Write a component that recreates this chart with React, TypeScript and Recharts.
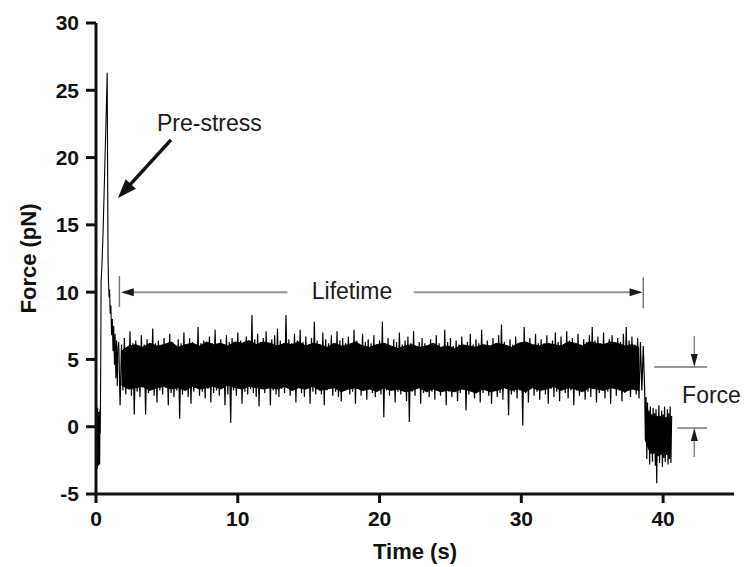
import React from 'react';
import { ComposedChart, Line, Area, XAxis, YAxis, ReferenceLine, ReferenceDot } from 'recharts';

const FONT = '"Liberation Sans", Arial, Helvetica, sans-serif';

// Axis ticks
const timeTicks = [0, 10, 20, 30, 40];
const forceTicks = [-5, 0, 5, 10, 15, 20, 25, 30];

// Pre-stress segment (irregular sampling)
const prestressTime = [
  0, 0.02, 0.04, 0.06, 0.08, 0.1, 0.12, 0.14, 0.16, 0.18, 0.2, 0.22, 0.24, 0.26, 0.28, 0.3,
  0.33, 0.36, 0.42, 0.5, 0.6, 0.7, 0.76, 0.79, 0.82, 0.85, 0.88, 0.92, 0.96, 1.0, 1.05,
  1.1, 1.15, 1.2, 1.25, 1.3, 1.35, 1.4, 1.45, 1.5, 1.55,
];
const prestressForce = [
  26.2, -1.0, 1.2, -2.6, 0.9, -3.1, 1.4, -1.8, 0.6, -2.9, 1.1, -2.2, 0.4, -2.8, 1.3, -0.5,
  4.0, 10.8, 12.0, 14.5, 18.5, 22.5, 25.0, 26.3, 19.0, 12.5, 10.8, 9.6, 10.2, 8.4, 9.0,
  6.8, 8.0, 5.6, 7.5, 4.6, 6.9, 3.6, 6.4, 3.0, 5.9,
];

// Bond lifetime plateau (sampled every 0.1 s from 1.6 s)
const plateauStart = 1.6;
const plateauStep = 0.1;
const plateauForce = [
  6.3, 1.6, 6.1, 2.7, 6.6, 2.4, 5.9, 2.8, 7.1, 2.3, 6.2, 0.9, 6.4, 2.6, 6.0, 2.2, 6.8, 2.9, 6.1, 0.9,
  6.5, 2.5, 6.0, 2.8, 7.3, 2.3, 6.2, 1.8, 6.4, 2.7, 5.9, 2.4, 6.6, 2.9, 6.1, 1.6, 6.9, 2.5, 6.3, 2.2,
  6.0, 2.7, 6.5, 0.6, 6.2, 2.4, 7.0, 2.8, 6.1, 2.2, 6.6, 1.7, 6.3, 2.6, 5.9, 2.9, 7.4, 2.3, 6.2, 2.6,
  6.4, 2.1, 6.0, 2.8, 6.7, 1.8, 6.2, 2.5, 7.2, 2.7, 6.1, 2.3, 6.5, 2.9, 6.0, 1.6, 6.8, 2.4, 6.3, 0.3,
  6.6, 2.7, 6.1, 2.3, 7.0, 2.9, 6.4, 1.7, 6.2, 2.6, 6.7, 2.4, 6.0, 2.8, 8.3, 2.5, 6.5, 2.2, 6.9, 1.5,
  6.3, 2.8, 6.6, 2.5, 7.1, 2.9, 6.2, 1.6, 6.5, 2.7, 6.8, 2.4, 7.3, 2.2, 6.4, 2.8, 6.1, 2.5, 8.3, 2.9,
  6.5, 2.3, 6.2, 2.7, 6.9, 1.8, 6.4, 2.9, 7.2, 2.5, 6.3, 2.2, 6.7, 2.8, 6.1, 1.7, 6.6, 2.6, 7.8, 2.4,
  6.4, 2.8, 6.0, 2.4, 7.0, 1.6, 6.5, 2.7, 6.2, 2.9, 6.8, 2.3, 6.1, 2.6, 7.1, 2.2, 6.4, 1.9, 6.6, 2.7,
  6.2, 2.9, 6.7, 2.4, 6.0, 2.6, 7.2, 1.7, 6.4, 2.8, 6.1, 2.3, 6.9, 2.7, 6.3, 2.0, 6.5, 2.9, 6.2, 2.5,
  6.8, 2.2, 6.1, 2.8, 6.4, 2.4, 7.8, 0.7, 6.2, 2.7, 6.6, 2.3, 6.0, 2.9, 6.5, 1.8, 6.3, 2.6, 7.0, 2.4,
  6.1, 2.8, 6.4, 1.9, 6.7, 0.35, 6.2, 2.6, 7.1, 2.3, 6.0, 2.9, 6.3, 1.7, 6.6, 2.5, 6.2, 2.8, 6.0, 2.2,
  6.5, 2.6, 6.1, 2.0, 6.8, 2.8, 6.2, 2.3, 5.9, 2.9, 7.2, 1.6, 6.3, 2.6, 6.6, 2.2, 6.0, 2.7, 6.4, 1.9,
  6.1, 2.5, 6.7, 2.8, 5.9, 1.2, 6.3, 2.4, 6.9, 2.7, 6.1, 2.1, 6.5, 2.6, 6.2, 1.8, 7.2, 2.5, 6.0, 2.8,
  6.4, 2.3, 6.0, 1.7, 6.6, 2.7, 6.2, 2.2, 6.8, 2.5, 7.6, 2.0, 6.3, 2.8, 6.0, 0.85, 6.5, 2.4, 6.1, 2.6,
  6.7, 2.1, 5.9, 2.7, 6.3, 0.1, 7.4, 2.5, 6.1, 1.8, 6.6, 2.9, 6.0, 2.3, 6.9, 2.6, 6.2, 2.0, 6.5, 2.8,
  6.2, 2.4, 6.8, 1.7, 6.0, 2.8, 6.4, 2.2, 7.0, 2.6, 6.3, 1.9, 6.7, 2.9, 6.1, 2.5, 7.1, 2.1, 6.4, 2.7,
  6.6, 1.6, 6.2, 2.7, 6.9, 2.3, 6.1, 2.9, 6.5, 2.0, 6.3, 2.6, 6.8, 2.2, 7.4, 2.8, 6.4, 1.8, 6.7, 2.5,
  6.2, 2.8, 7.0, 2.1, 6.0, 2.6, 6.5, 1.7, 6.8, 2.9, 6.2, 2.3, 6.6, 2.7, 6.3, 1.9, 6.9, 2.5, 7.4, 2.8,
  6.4, 2.2, 6.7, 2.9, 6.1, 2.4, 6.6, 2.1, 6.3, 2.7, 6.0,
];

// Dense (solid black) core of the plateau noise band, read every 0.5 s
const coreTime = [
  1.8, 2.3, 2.8, 3.3, 3.8, 4.3, 4.8, 5.3, 5.8, 6.3, 6.8, 7.3, 7.8, 8.3, 8.8, 9.3, 9.8, 10.3, 10.8, 11.3,
  11.8, 12.3, 12.8, 13.3, 13.8, 14.3, 14.8, 15.3, 15.8, 16.3, 16.8, 17.3, 17.8, 18.3, 18.8, 19.3, 19.8, 20.3, 20.8, 21.3,
  21.8, 22.3, 22.8, 23.3, 23.8, 24.3, 24.8, 25.3, 25.8, 26.3, 26.8, 27.3, 27.8, 28.3, 28.8, 29.3, 29.8, 30.3, 30.8, 31.3,
  31.8, 32.3, 32.8, 33.3, 33.8, 34.3, 34.8, 35.3, 35.8, 36.3, 36.8, 37.3, 37.8, 38.3,
];
const coreHigh = [
  5.6, 6.0, 6.1, 5.9, 6.2, 6.0, 6.1, 6.3, 5.9, 6.1, 6.2, 6.0, 6.3, 6.1, 6.2, 6.0, 6.3, 6.2, 6.4, 6.1,
  6.3, 6.2, 6.0, 6.2, 6.1, 6.3, 6.0, 6.2, 6.1, 5.9, 6.2, 6.0, 6.1, 6.3, 6.0, 5.9, 6.1, 6.2, 6.0, 5.8,
  6.0, 6.1, 5.9, 6.0, 6.2, 5.9, 6.0, 5.8, 6.1, 6.0, 5.9, 6.1, 6.0, 6.2, 6.1, 5.9, 6.2, 6.3, 6.1, 6.0,
  6.2, 6.1, 6.0, 6.3, 6.2, 6.0, 6.3, 6.2, 6.1, 6.3, 6.2, 6.0, 6.1, 5.9,
];
const coreLow = [
  3.1, 2.8, 2.9, 3.0, 2.7, 2.9, 3.0, 2.8, 2.9, 2.7, 3.0, 2.8, 2.9, 3.0, 2.8, 3.1, 2.9, 2.8, 3.0, 2.9,
  2.8, 2.9, 2.8, 3.0, 2.7, 2.9, 2.8, 3.0, 2.7, 2.8, 2.9, 2.6, 2.8, 2.9, 2.7, 2.8, 2.6, 2.9, 2.7, 2.8,
  2.6, 2.7, 2.9, 2.6, 2.8, 2.6, 2.7, 2.6, 2.8, 2.7, 2.5, 2.8, 2.6, 2.7, 2.9, 2.7, 2.8, 2.6, 2.9, 2.7,
  2.8, 3.0, 2.7, 2.9, 2.8, 2.6, 2.9, 2.8, 2.7, 2.9, 2.8, 2.6, 2.8, 2.7,
];

// After bond rupture (sampled every 0.05 s from 38.7 s)
const ruptureStart = 38.7;
const ruptureStep = 0.05;
const ruptureForce = [
  2.7, -1.0, 2.2, -2.4, 1.8, -1.5, 1.2, -2.8, 1.5, -2.0, 0.9, -2.6, 1.4, -1.8, 1.0, -2.9, 1.3, -4.2, 0.8, -2.2,
  1.6, -2.7, 0.7, -1.9, 1.2, -3.0, 0.9, -2.3, 1.5, -2.6, 0.6, -2.1, 1.3, -2.8, 1.0, -2.4, 1.5, -2.7, 0.8,
];
const ruptureCoreTime = [38.75, 39.0, 39.25, 39.5, 39.75, 40.0, 40.25, 40.5];
const ruptureCoreHigh = [1.4, 1.0, 0.8, 0.7, 0.8, 0.6, 0.7, 0.5];
const ruptureCoreLow = [-1.0, -1.7, -2.0, -1.9, -2.1, -2.0, -1.9, -2.0];

type Row = { t: number; pre?: number; trace?: number; core?: [number, number]; core2?: [number, number] };
const rows = new Map<string, Row>();
const row = (t: number): Row => {
  const k = t.toFixed(3);
  if (!rows.has(k)) rows.set(k, { t: +k });
  return rows.get(k)!;
};
prestressTime.forEach((t, i) => { row(t).pre = prestressForce[i]; });
row(prestressTime[prestressTime.length - 1]).trace = prestressForce[prestressForce.length - 1];
plateauForce.forEach((f, i) => { row(plateauStart + i * plateauStep).trace = f; });
ruptureForce.forEach((f, i) => { row(ruptureStart + i * ruptureStep).trace = f; });
coreTime.forEach((t, i) => { row(t).core = [coreLow[i], coreHigh[i]]; });
ruptureCoreTime.forEach((t, i) => { row(t).core2 = [ruptureCoreLow[i], ruptureCoreHigh[i]]; });
const data = Array.from(rows.values()).sort((a, b) => a.t - b.t);

const GRAY = '#969696';
const HEAD = '#1a1a1a';

type Dir = 'left' | 'right' | 'up' | 'down';
const headShape = (dir: Dir, len = 13, half = 4) => (p: any) => {
  const { cx, cy } = p;
  let pts = '';
  if (dir === 'left') pts = `${cx},${cy} ${cx + len},${cy - half} ${cx + len},${cy + half}`;
  if (dir === 'right') pts = `${cx},${cy} ${cx - len},${cy - half} ${cx - len},${cy + half}`;
  if (dir === 'down') pts = `${cx},${cy} ${cx - half},${cy - len} ${cx + half},${cy - len}`;
  if (dir === 'up') pts = `${cx},${cy} ${cx - half},${cy + len} ${cx + half},${cy + len}`;
  return <polygon points={pts} fill={HEAD} />;
};

const textShape = (txt: string, anchor: 'start' | 'middle' = 'start') => (p: any) => (
  <text x={p.cx} y={p.cy} textAnchor={anchor} dominantBaseline="central" fontFamily={FONT} fontSize={23} fill="#1a1a1a">
    {txt}
  </text>
);

// Bold arrow pointing to the pre-stress peak (tip at the dot, tail up-right)
const prestressArrow = (p: any) => {
  const { cx, cy } = p;
  const dx = 53, dy = -58;
  const L = Math.hypot(dx, dy);
  const ux = dx / L, uy = dy / L;
  const hl = 19, hw = 7;
  const bx = cx + ux * hl, by = cy + uy * hl;
  const px = -uy, py = ux;
  return (
    <g>
      <line x1={cx + dx} y1={cy + dy} x2={bx - ux * 2} y2={by - uy * 2} stroke="#111" strokeWidth={3.5} />
      <polygon points={`${cx},${cy} ${bx + px * hw},${by + py * hw} ${bx - px * hw},${by - py * hw}`} fill="#111" />
    </g>
  );
};

const yLabel = (props: any) => {
  const vb = props.viewBox || {};
  const x = 28;
  const y = (vb.y ?? 23) + (vb.height ?? 471) / 2;
  return (
    <text x={x} y={y} transform={`rotate(-90, ${x}, ${y})`} textAnchor="middle" dominantBaseline="central"
      fontFamily={FONT} fontSize={22} fontWeight="bold" fill="#111">
      Force (pN)
    </text>
  );
};

export default function App() {
  const tickStyle = { fontSize: 21, fontWeight: 'bold' as const, fill: '#111', fontFamily: FONT };
  return (
    <div style={{ position: 'absolute', left: 0, top: 0, background: '#fff' }}>
      <ComposedChart width={744} height={567} data={data} margin={{ top: 23, right: 10, bottom: 0, left: 0 }}>
        <XAxis
          type="number"
          dataKey="t"
          domain={[0, 45]}
          ticks={timeTicks}
          allowDataOverflow
          height={73}
          axisLine={{ stroke: '#111', strokeWidth: 3 }}
          tickLine={{ stroke: '#111', strokeWidth: 3 }}
          tickSize={9}
          tickMargin={8}
          tick={tickStyle}
          label={{ value: 'Time (s)', position: 'insideBottom', offset: 8, style: { fontSize: 22, fontWeight: 'bold', fill: '#111', fontFamily: FONT } }}
        />
        <YAxis
          type="number"
          domain={[-5, 30]}
          ticks={forceTicks}
          allowDataOverflow
          width={96}
          axisLine={{ stroke: '#111', strokeWidth: 3 }}
          tickLine={{ stroke: '#111', strokeWidth: 3 }}
          tickSize={10}
          tickMargin={7}
          tick={tickStyle}
          label={yLabel}
        />
        <Area type="linear" dataKey="core" stroke="#000" strokeWidth={1} fill="#000" fillOpacity={1} connectNulls dot={false} activeDot={false} isAnimationActive={false} />
        <Area type="linear" dataKey="core2" stroke="#000" strokeWidth={1} fill="#000" fillOpacity={1} connectNulls dot={false} activeDot={false} isAnimationActive={false} />
        <Line type="linear" dataKey="pre" stroke="#000" strokeWidth={1.1} dot={false} connectNulls isAnimationActive={false} />
        <Line type="linear" dataKey="trace" stroke="#000" strokeWidth={1.2} dot={false} connectNulls isAnimationActive={false} />

        {/* Lifetime bracket */}
        <ReferenceLine segment={[{ x: 1.65, y: 11.2 }, { x: 1.65, y: 8.9 }]} stroke="#777" strokeWidth={1.5} />
        <ReferenceLine segment={[{ x: 38.6, y: 11.1 }, { x: 38.6, y: 8.8 }]} stroke="#777" strokeWidth={1.5} />
        <ReferenceLine segment={[{ x: 2.3, y: 10 }, { x: 13.5, y: 10 }]} stroke={GRAY} strokeWidth={2} />
        <ReferenceLine segment={[{ x: 22.4, y: 10 }, { x: 37.9, y: 10 }]} stroke={GRAY} strokeWidth={2} />
        <ReferenceDot x={1.75} y={10} shape={headShape('left')} />
        <ReferenceDot x={38.55} y={10} shape={headShape('right')} />
        <ReferenceDot x={18.06} y={10.1} shape={textShape('Lifetime', 'middle')} />

        {/* Pre-stress annotation */}
        <ReferenceDot x={4.3} y={22.6} shape={textShape('Pre-stress')} />
        <ReferenceDot x={1.55} y={17.0} shape={prestressArrow} />

        {/* Force step annotation */}
        <ReferenceLine segment={[{ x: 39.37, y: 4.43 }, { x: 43.1, y: 4.43 }]} stroke={GRAY} strokeWidth={2} />
        <ReferenceLine segment={[{ x: 41.0, y: -0.1 }, { x: 43.1, y: -0.1 }]} stroke={GRAY} strokeWidth={2} />
        <ReferenceLine segment={[{ x: 42.2, y: 6.74 }, { x: 42.2, y: 5.2 }]} stroke="#888" strokeWidth={1.5} />
        <ReferenceLine segment={[{ x: 42.2, y: -2.25 }, { x: 42.2, y: -0.9 }]} stroke="#888" strokeWidth={1.5} />
        <ReferenceDot x={42.2} y={4.43} shape={headShape('down', 13, 3.5)} />
        <ReferenceDot x={42.2} y={-0.1} shape={headShape('up', 13, 3.5)} />
        <ReferenceDot x={41.34} y={2.35} shape={textShape('Force')} />
      </ComposedChart>
    </div>
  );
}
